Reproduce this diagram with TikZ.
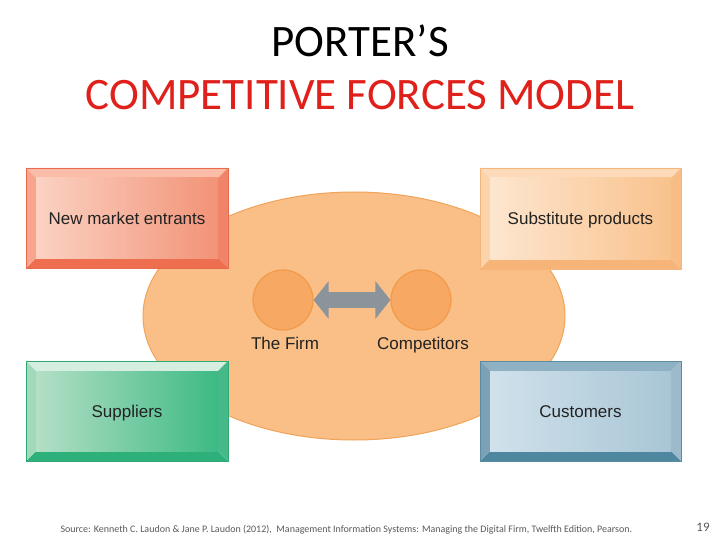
\documentclass[tikz,border=0pt]{standalone}
\usepackage{fontspec}
\setmainfont{Carlito}
\newfontfamily\arialf{Liberation Sans}
\usetikzlibrary{arrows.meta}
% colours
\definecolor{titlered}{HTML}{E0201B}
\definecolor{ellfill}{HTML}{F9BF87}
\definecolor{elldraw}{HTML}{F0A45A}
\definecolor{circfill}{HTML}{F7A964}
\definecolor{circdraw}{HTML}{F29A4A}
\definecolor{arrowgray}{HTML}{8C949B}
\definecolor{txtdark}{HTML}{222222}
\definecolor{footgray}{HTML}{5A5A5A}
% New market entrants
\definecolor{nmeT}{HTML}{FBBCA8}\definecolor{nmeB}{HTML}{EE6E50}
\definecolor{nmeL}{HTML}{F8A58E}\definecolor{nmeR}{HTML}{F08468}
\definecolor{nmeIL}{HTML}{FBD2C3}\definecolor{nmeIR}{HTML}{F29377}
\definecolor{nmeD}{HTML}{E86A4E}
% Substitute products
\definecolor{subT}{HTML}{FDDAB8}\definecolor{subB}{HTML}{F7B478}
\definecolor{subL}{HTML}{FCD3AA}\definecolor{subR}{HTML}{F8BC85}
\definecolor{subIL}{HTML}{FDE6CF}\definecolor{subIR}{HTML}{F9C28D}
\definecolor{subD}{HTML}{F5B67C}
% Suppliers
\definecolor{supT}{HTML}{D5EEE0}\definecolor{supB}{HTML}{2DB07A}
\definecolor{supL}{HTML}{A3D9BB}\definecolor{supR}{HTML}{45B98A}
\definecolor{supIL}{HTML}{B3DFC6}\definecolor{supIR}{HTML}{3DBA84}
\definecolor{supD}{HTML}{30A873}
% Customers
\definecolor{cusT}{HTML}{8FB1C4}\definecolor{cusB}{HTML}{4F87A0}
\definecolor{cusL}{HTML}{7BA1B6}\definecolor{cusR}{HTML}{9CBACB}
\definecolor{cusIL}{HTML}{D0E1EB}\definecolor{cusIR}{HTML}{A9C6D6}
\definecolor{cusD}{HTML}{5B8CA4}
\tikzset{
  boxtext/.style={font=\arialf\fontsize{17}{20}\selectfont, text=txtdark, text height=12pt, text depth=3.5pt, inner sep=0pt},
  circlab/.style={font=\arialf\fontsize{17}{20}\selectfont, text=txtdark, text height=12pt, text depth=3.5pt, inner sep=0pt},
  firmcirc/.style={circle, minimum size=60pt, inner sep=0pt, fill=circfill, draw=circdraw, line width=1.2pt},
}
\newcommand\bevbox[7]{%
  \fill[#1T] (#3,#4) -- (#5,#4) -- ({#5-10},{#4+10}) -- ({#3+10},{#4+10}) -- cycle;
  \fill[#1B] (#3,#6) -- (#5,#6) -- ({#5-10},{#6-10}) -- ({#3+10},{#6-10}) -- cycle;
  \fill[#1L] (#3,#4) -- ({#3+10},{#4+10}) -- ({#3+10},{#6-10}) -- (#3,#6) -- cycle;
  \fill[#1R] (#5,#4) -- ({#5-10},{#4+10}) -- ({#5-10},{#6-10}) -- (#5,#6) -- cycle;
  \shade[left color=#1IL, right color=#1IR] ({#3+10},{#4+10}) rectangle ({#5-10},{#6-10});
  \draw[#1D, line width=0.8pt] (#3,#4) rectangle (#5,#6);
  \node[boxtext] (#2) at ({(#3+#5)/2},{(#4+#6)/2+2}) {#7};
}
\begin{document}
\begin{tikzpicture}[x=1pt,y=-1pt]
\useasboundingbox[fill=white] (0,0) rectangle (720,540);
% title
\node[font=\fontsize{45}{48}\selectfont, text=black] (t1) at (360,41) {PORTER’S};
\node[font=\fontsize{45}{48}\selectfont, text=titlered] (t2) at (360,95) {COMPETITIVE FORCES MODEL};
% ellipse
\fill[ellfill, draw=elldraw, line width=1pt] (354,316) ellipse [x radius=211, y radius=124];
% boxes
\bevbox{nme}{nme}{26}{168}{228}{268}{New market entrants}
\bevbox{sub}{sub}{480}{168}{681}{269}{Substitute products}
\bevbox{sup}{sup}{26}{361}{228}{461}{Suppliers}
\bevbox{cus}{cus}{480}{361}{681}{461}{Customers}
% firm and competitors
\node[firmcirc] (firm) at (283,300) {};
\node[firmcirc] (comp) at (421,300) {};
\node[circlab] (firml) at (285,345) {The Firm};
\node[circlab] (compl) at (423,345) {Competitors};
\draw[arrowgray, line width=16pt, {Triangle[width=37pt,length=15pt]}-{Triangle[width=37pt,length=15pt]}] (firm.east) -- (comp.west);
% footer
\node[font=\fontsize{10}{12}\selectfont, text=footgray, anchor=west] (src) at (57,530) {Source: Kenneth C. Laudon \& Jane P. Laudon (2012),~ Management Information Systems: Managing the Digital Firm, Twelfth Edition, Pearson.};
\node[font=\fontsize{13}{15}\selectfont, text=footgray] (pg) at (703,527) {19};
\end{tikzpicture}
\end{document}
